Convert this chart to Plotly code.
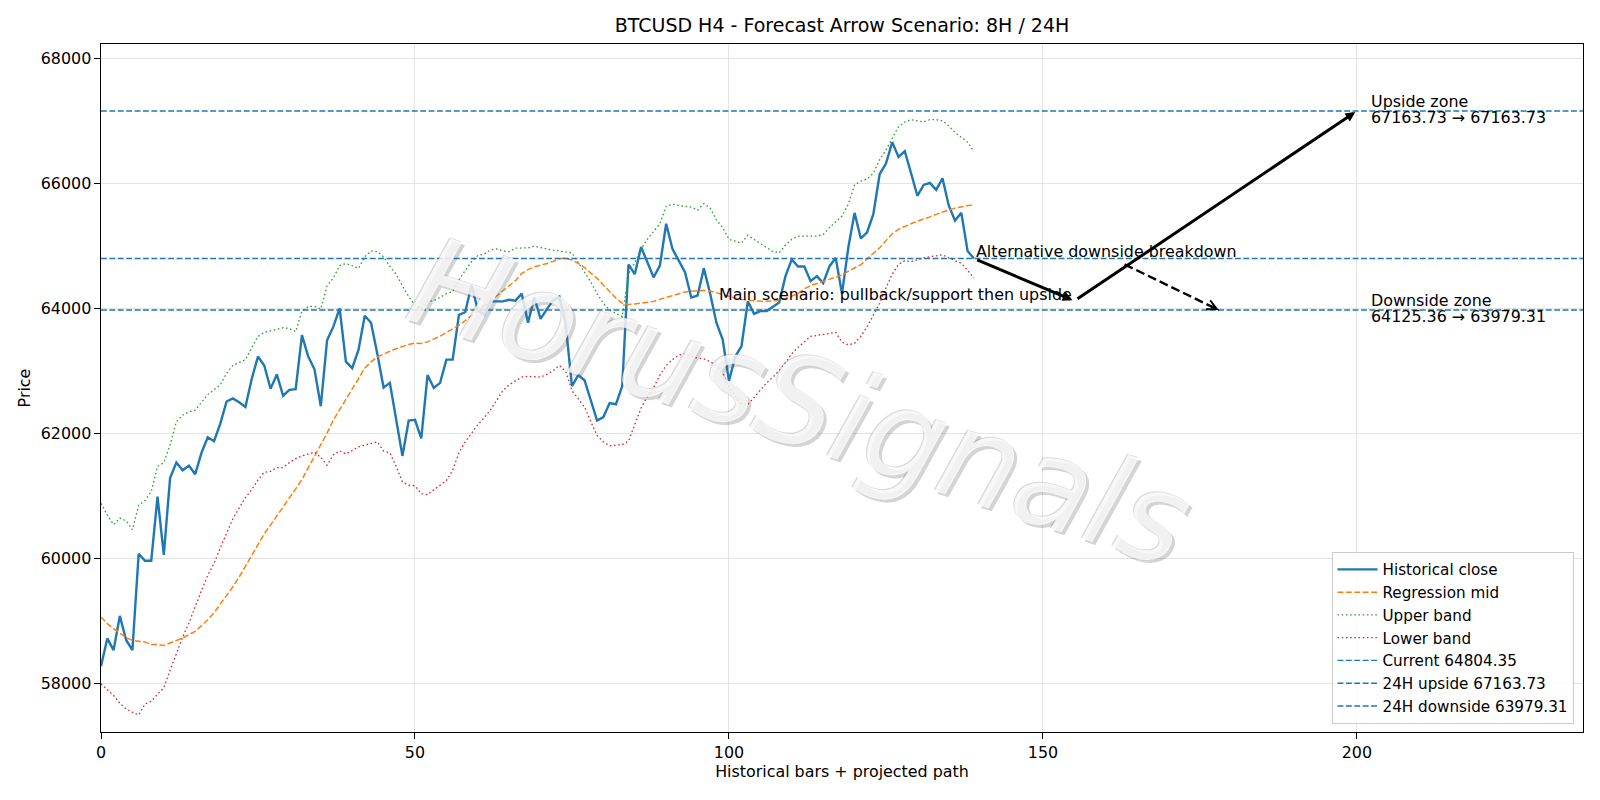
import plotly.graph_objects as go

# ---------------- data ----------------
bars = list(range(140))

close = [58280, 58727, 58540, 59087, 58702, 58540, 60081, 59969, 59969, 60994,
         60062, 61292, 61540, 61416, 61491, 61354, 61696, 61944, 61882, 62162,
         62516, 62565, 62503, 62429, 62876, 63236, 63093, 62721, 62950, 62609,
         62702, 62714, 63578, 63236, 63031, 62441, 63497, 63714, 64006, 63155,
         63050, 63342, 63888, 63777, 63280, 62739, 62814, 62255, 61646, 62211,
         62224, 61926, 62938, 62733, 62814, 63186, 63186, 63901, 63944, 64379,
         63981, 63901, 64118, 64118, 64118, 64143, 64130, 64242, 63777, 64180,
         63839, 63994, 64130, 64193, 63745, 62764, 62938, 62857, 62534, 62211,
         62267, 62491, 62472, 62764, 64708, 64553, 64988, 64739, 64503, 64690,
         65360, 64957, 64770, 64584, 64180, 64211, 64646, 64242, 63777, 63509,
         62845, 63236, 63404, 64118, 63919, 63963, 63963, 64025, 64100, 64522,
         64789, 64677, 64677, 64441, 64522, 64410, 64677, 64814, 64242, 64975,
         65534, 65124, 65224, 65516, 66155, 66323, 66665, 66429, 66522, 66168,
         65807, 65981, 66012, 65901, 66087, 65652, 65410, 65534, 64925, 64804.35]

reg_mid = [59069, 58963, 58882, 58808, 58740, 58696, 58684, 58671, 58628, 58628,
           58615, 58653, 58702, 58733, 58789, 58839, 58932, 59025, 59137, 59274,
           59398, 59553, 59708, 59882, 60062, 60236, 60400, 60540, 60680, 60830,
           60980, 61120, 61270, 61450, 61630, 61820, 62010, 62220, 62380, 62540,
           62710, 62880, 63050, 63150, 63230, 63280, 63320, 63360, 63400, 63430,
           63450, 63445, 63470, 63510, 63560, 63620, 63680, 63735, 63810, 63885,
           63965, 64045, 64125, 64205, 64285, 64360, 64450, 64565, 64625, 64670,
           64695, 64725, 64760, 64800, 64810, 64780, 64727, 64660, 64570, 64490,
           64380, 64270, 64170, 64090, 64070, 64075, 64090, 64105, 64118, 64150,
           64180, 64210, 64240, 64270, 64280, 64290, 64295, 64285, 64255, 64225,
           64200, 64170, 64150, 64135, 64128, 64120, 64118, 64125, 64140, 64165,
           64205, 64245, 64320, 64370, 64405, 64440, 64480, 64510, 64540, 64600,
           64650, 64705, 64800, 64890, 64975, 65090, 65200, 65270, 65320, 65360,
           65400, 65430, 65470, 65510, 65550, 65580, 65610, 65635, 65650, 65660]

upper_band = [60888, 60702, 60547, 60652, 60609, 60466, 60857, 60932, 61075, 61478,
              61540, 61820, 62193, 62298, 62348, 62379, 62503, 62627, 62702, 62783,
              62969, 63093, 63137, 63186, 63373, 63559, 63621, 63645, 63671, 63696,
              63683, 63634, 63963, 64037, 64037, 63994, 64367, 64491, 64690, 64721,
              64690, 64646, 64832, 64925, 64913, 64832, 64677, 64553, 64367, 64193,
              64056, 63994, 64118, 64130, 64180, 64242, 64273, 64460, 64615, 64752,
              64851, 64876, 64938, 64957, 64925, 64913, 64969, 64975, 64975, 65000,
              64975, 64957, 64938, 64925, 64907, 64894, 64739, 64584, 64429, 64242,
              64087, 63981, 63919, 63870, 64553, 64739, 64957, 65112, 65236, 65360,
              65640, 65671, 65652, 65640, 65627, 65578, 65683, 65609, 65422, 65298,
              65112, 65081, 65050, 65174, 65112, 65050, 64975, 64913, 64894, 65019,
              65112, 65162, 65162, 65162, 65162, 65186, 65298, 65391, 65484, 65671,
              65981, 66043, 66075, 66168, 66385, 66540, 66727, 66913, 66988, 67025,
              67006, 66988, 67025, 67025, 67006, 66925, 66820, 66740, 66665, 66509]

lower_band = [58000, 57907, 57814, 57690, 57597, 57547, 57503, 57677, 57721, 57833,
              57938, 58218, 58498, 58746, 58975, 59243, 59491, 59739, 59926, 60174,
              60422, 60640, 60814, 60981, 61106, 61261, 61385, 61400, 61460, 61460,
              61540, 61603, 61646, 61683, 61708, 61621, 61497, 61665, 61727, 61677,
              61727, 61789, 61820, 61851, 61870, 61727, 61696, 61478, 61230, 61180,
              61168, 61044, 61025, 61106, 61180, 61250, 61416, 61696, 61870, 62006,
              62143, 62255, 62379, 62534, 62690, 62783, 62845, 62907, 62919, 62919,
              62907, 62950, 63012, 63093, 62999, 62690, 62565, 62429, 62193, 61975,
              61870, 61808, 61820, 61826, 61882, 62143, 62410, 62596, 62739, 62938,
              63093, 63186, 63261, 63280, 63236, 63211, 63199, 63155, 63093, 62969,
              62752, 62596, 62472, 62472, 62578, 62702, 62814, 62907, 63012, 63137,
              63280, 63380, 63466, 63559, 63572, 63590, 63609, 63621, 63466, 63422,
              63447, 63559, 63714, 63901, 64087, 64335, 64553, 64708, 64770, 64752,
              64789, 64814, 64832, 64851, 64863, 64814, 64770, 64727, 64615, 64490]

current_price = 64804.35
upside_24h = 67163.73
downside_24h = 63979.31
pullback_8h = 64125.36

# projected main path (bar index, price) and alternative path
main_path_x = [139, 155, 200]
main_path_y = [current_price, pullback_8h, upside_24h]
alt_path_x = [163, 178]
alt_path_y = [64710, downside_24h]

x_range = [0, 236]
y_range = [57230, 68235]
x_ticks = [0, 50, 100, 150, 200]
y_ticks = [58000, 60000, 62000, 64000, 66000, 68000]

title_text = "BTCUSD H4 - Forecast Arrow Scenario: 8H / 24H"
x_label = "Historical bars + projected path"
y_label = "Price"
watermark = "HorusSignals"

FONT = "DejaVu Sans"
FS = 15.9
DASH = "5.9px,2.5px"
DOT = "1.6px,2.6px"

# ---------------- figure ----------------
fig = go.Figure()

fig.add_trace(go.Scatter(x=bars, y=close, mode="lines", name="Historical close",
                         line=dict(color="#1f77b4", width=2.4)))
fig.add_trace(go.Scatter(x=bars, y=reg_mid, mode="lines", name="Regression mid",
                         line=dict(color="#ff7f0e", width=1.5, dash=DASH)))
fig.add_trace(go.Scatter(x=bars, y=upper_band, mode="lines", name="Upper band",
                         line=dict(color="#2ca02c", width=1.3, dash=DOT)))
fig.add_trace(go.Scatter(x=bars, y=lower_band, mode="lines", name="Lower band",
                         line=dict(color="#d62728", width=1.3, dash=DOT)))

for name, val in [(f"Current {current_price:.2f}", current_price),
                  (f"24H upside {upside_24h:.2f}", upside_24h),
                  (f"24H downside {downside_24h:.2f}", downside_24h)]:
    fig.add_trace(go.Scatter(x=x_range, y=[val, val], mode="lines", name=name,
                             line=dict(color="#1f77b4", width=1.4, dash=DASH)))

# alternative dashed path shaft
fig.add_trace(go.Scatter(x=alt_path_x, y=alt_path_y, mode="lines", showlegend=False,
                         hoverinfo="skip",
                         line=dict(color="black", width=2.4, dash="9px,4px")))

annotations = []

# watermark: outline layer, drop-shadow layer, white face
wm_x = (800 - 101) / 1482
wm_y = (732 - 402) / 688
for dx, dy, col in [(-1, 1, "rgba(110,110,110,0.26)"),
                    (3, -3, "rgba(90,90,90,0.26)"),
                    (0, 0, "rgba(255,255,255,0.8)")]:
    annotations.append(dict(
        text=watermark, xref="paper", yref="paper", x=wm_x, y=wm_y,
        xanchor="center", yanchor="middle", showarrow=False, textangle=18,
        xshift=dx, yshift=dy,
        font=dict(family=FONT, size=124, color=col, style="italic"),
    ))

# main path arrows
for i in range(len(main_path_x) - 1):
    annotations.append(dict(
        x=main_path_x[i + 1], y=main_path_y[i + 1], ax=main_path_x[i], ay=main_path_y[i],
        xref="x", yref="y", axref="x", ayref="y", text="", showarrow=True,
        arrowhead=2, arrowsize=0.65, arrowwidth=3, arrowcolor="black", standoff=2,
        startstandoff=2,
    ))

# alternative arrow head (open)
sl = (alt_path_y[1] - alt_path_y[0]) / (alt_path_x[1] - alt_path_x[0])
annotations.append(dict(
    x=alt_path_x[1], y=alt_path_y[1], ax=alt_path_x[1] - 1.5, ay=alt_path_y[1] - 1.5 * sl,
    xref="x", yref="y", axref="x", ayref="y", text="", showarrow=True,
    arrowhead=5, arrowsize=0.8, arrowwidth=2.4, arrowcolor="black", standoff=0,
))

annotations.append(dict(
    x=main_path_x[0], y=current_price, xref="x", yref="y", text="Alternative downside breakdown",
    showarrow=False, xanchor="left", yanchor="bottom", yshift=-5,
    font=dict(family=FONT, size=FS, color="black")))
annotations.append(dict(
    x=main_path_x[1], y=pullback_8h, xref="x", yref="y",
    text="Main scenario: pullback/support then upside",
    showarrow=False, xanchor="right", yanchor="bottom", yshift=-5,
    font=dict(family=FONT, size=FS, color="black")))

zone_texts = [("Upside zone", f"{upside_24h:.2f} \u2192 {upside_24h:.2f}", upside_24h),
              ("Downside zone", f"{pullback_8h:.2f} \u2192 {downside_24h:.2f}", downside_24h)]
for head, nums, level in zone_texts:
    annotations.append(dict(x=202, y=level, xref="x", yref="y", text=head, showarrow=False,
                            xanchor="left", yanchor="middle", yshift=9.5,
                            font=dict(family=FONT, size=FS, color="black")))
    annotations.append(dict(x=202, y=level, xref="x", yref="y", text=nums, showarrow=False,
                            xanchor="left", yanchor="middle", yshift=-6.5,
                            font=dict(family=FONT, size=FS, color="black")))

axis_common = dict(
    showgrid=True, gridcolor="#e4e4e4", gridwidth=1, zeroline=False,
    showline=True, mirror=True, linecolor="black", linewidth=1.1,
    ticks="outside", ticklen=5.5, tickwidth=1.1, tickcolor="black",
    tickfont=dict(family=FONT, size=FS, color="black"),
)

fig.update_layout(
    width=1600, height=800, autosize=False,
    margin=dict(l=101, r=17, t=44, b=68, pad=0),
    paper_bgcolor="white", plot_bgcolor="white",
    font=dict(family=FONT, size=FS, color="black"),
    title=dict(text=title_text, x=(101 + 1583) / 2 / 1600, xanchor="center", xref="container",
               y=1 - 25.5 / 800, yanchor="middle", yref="container",
               font=dict(family=FONT, size=19, color="black")),
    xaxis=dict(range=x_range, tickvals=x_ticks, automargin=False,
               title=dict(text=x_label, standoff=5, font=dict(family=FONT, size=FS)),
               **axis_common),
    yaxis=dict(range=y_range, tickvals=y_ticks, tickformat="d", automargin=False,
               title=dict(text=y_label, standoff=6, font=dict(family=FONT, size=FS)),
               **axis_common),
    legend=dict(x=(1573.5 - 101) / 1482, y=(732 - 724) / 688, xanchor="right", yanchor="bottom",
                bgcolor="rgba(255,255,255,0.8)", bordercolor="#cccccc", borderwidth=1,
                itemwidth=40,
                font=dict(family=FONT, size=15.2, color="black")),
    annotations=annotations,
    showlegend=True,
)

fig.write_html("out.html")
